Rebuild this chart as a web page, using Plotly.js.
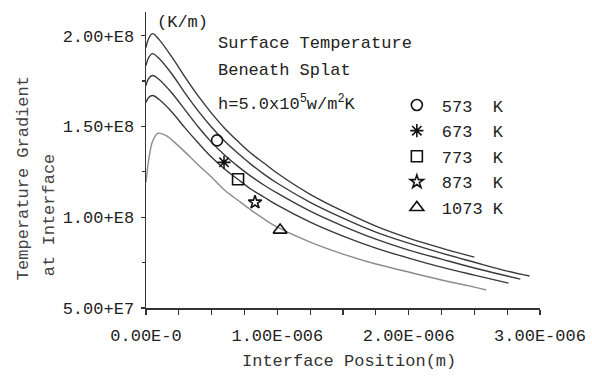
<!DOCTYPE html>
<html>
<head>
<meta charset="utf-8">
<script src="https://cdn.plot.ly/plotly-3.0.1.min.js"></script>
<style>html,body{margin:0;padding:0;background:#fff;}</style>
</head>
<body>
<div id="chart" style="width:592px;height:378px;"></div>
<script>
// Interface position (m) and temperature gradient (K/m)
var x573  = [0, 0.02e-6, 0.05e-6, 0.1e-6, 0.2e-6, 0.3e-6, 0.4e-6, 0.5e-6, 0.6e-6, 0.7e-6, 0.8e-6, 0.9e-6, 1.0e-6, 1.25e-6, 1.5e-6, 1.75e-6, 2.0e-6, 2.25e-6, 2.5e-6];
var y573  = [1.934e8, 1.984e8, 2.011e8, 1.978e8, 1.879e8, 1.769e8, 1.665e8, 1.572e8, 1.489e8, 1.418e8, 1.352e8, 1.297e8, 1.242e8, 1.126e8, 1.033e8, 0.951e8, 0.885e8, 0.830e8, 0.780e8];

var x673  = [0, 0.02e-6, 0.05e-6, 0.1e-6, 0.2e-6, 0.3e-6, 0.4e-6, 0.5e-6, 0.6e-6, 0.7e-6, 0.8e-6, 0.9e-6, 1.0e-6, 1.25e-6, 1.5e-6, 1.75e-6, 2.0e-6, 2.25e-6, 2.5e-6, 2.75e-6, 2.92e-6];
var y673  = [1.835e8, 1.879e8, 1.901e8, 1.874e8, 1.786e8, 1.681e8, 1.583e8, 1.495e8, 1.418e8, 1.352e8, 1.291e8, 1.236e8, 1.187e8, 1.082e8, 0.995e8, 0.918e8, 0.857e8, 0.802e8, 0.752e8, 0.703e8, 0.676e8];

var x773  = [0, 0.02e-6, 0.05e-6, 0.1e-6, 0.2e-6, 0.3e-6, 0.4e-6, 0.5e-6, 0.6e-6, 0.7e-6, 0.8e-6, 0.9e-6, 1.0e-6, 1.25e-6, 1.5e-6, 1.75e-6, 2.0e-6, 2.25e-6, 2.5e-6, 2.75e-6, 2.85e-6];
var y773  = [1.725e8, 1.764e8, 1.780e8, 1.758e8, 1.681e8, 1.588e8, 1.495e8, 1.412e8, 1.341e8, 1.280e8, 1.225e8, 1.176e8, 1.132e8, 1.033e8, 0.951e8, 0.879e8, 0.819e8, 0.769e8, 0.720e8, 0.676e8, 0.659e8];

var x873  = [0, 0.02e-6, 0.05e-6, 0.1e-6, 0.2e-6, 0.3e-6, 0.4e-6, 0.5e-6, 0.6e-6, 0.7e-6, 0.8e-6, 0.9e-6, 1.0e-6, 1.25e-6, 1.5e-6, 1.75e-6, 2.0e-6, 2.25e-6, 2.5e-6, 2.76e-6];
var y873  = [1.632e8, 1.659e8, 1.670e8, 1.648e8, 1.577e8, 1.489e8, 1.407e8, 1.330e8, 1.264e8, 1.209e8, 1.154e8, 1.110e8, 1.066e8, 0.973e8, 0.896e8, 0.830e8, 0.775e8, 0.725e8, 0.681e8, 0.637e8];

var x1073 = [0, 0.02e-6, 0.05e-6, 0.09e-6, 0.15e-6, 0.2e-6, 0.3e-6, 0.4e-6, 0.5e-6, 0.6e-6, 0.7e-6, 0.8e-6, 0.9e-6, 1.0e-6, 1.25e-6, 1.5e-6, 1.75e-6, 2.0e-6, 2.25e-6, 2.5e-6, 2.59e-6];
var y1073 = [1.192e8, 1.313e8, 1.418e8, 1.462e8, 1.451e8, 1.423e8, 1.357e8, 1.286e8, 1.220e8, 1.148e8, 1.093e8, 1.039e8, 0.989e8, 0.945e8, 0.863e8, 0.797e8, 0.742e8, 0.698e8, 0.654e8, 0.615e8, 0.599e8];

// marker positions (labels of each curve)
var seriesNames  = ['573\u00a0\u00a0K', '673\u00a0\u00a0K', '773\u00a0\u00a0K', '873\u00a0\u00a0K', '1073\u00a0K'];
var markerX = [0.541e-6, 0.594e-6, 0.701e-6, 0.830e-6, 1.021e-6];
var markerY = [1.423e8, 1.302e8, 1.209e8, 1.082e8, 0.929e8];
var markerSymbols = ['circle-open', 'asterisk-open', 'square-open', 'star-open', 'triangle-up-open'];
var markerSizes = [11, 11, 11, 10, 12];

// axis ticks
var xTickVals = [0, 1e-6, 2e-6, 3e-6];
var xTickText = ['0.00E-0', '1.00E-006', '2.00E-006', '3.00E-006'];
var yTickVals = [5e7, 1e8, 1.5e8, 2e8];
var yTickText = ['5.00+E7', '1.00+E8', '1.50+E8', '2.00+E8'];

var FONT = 'Liberation Mono, Courier New, monospace';
var curveX = [x573, x673, x773, x873, x1073];
var curveY = [y573, y673, y773, y873, y1073];
var curveColors = ['#3a3a3a', '#3a3a3a', '#3a3a3a', '#3a3a3a', '#8c8c8c'];

var traces = [];
for (var i = 0; i < curveX.length; i++) {
  traces.push({
    x: curveX[i], y: curveY[i], type: 'scatter', mode: 'lines',
    line: {color: curveColors[i], width: 1.4, shape: 'spline', smoothing: 1},
    showlegend: false, hoverinfo: 'skip'
  });
}
for (var j = 0; j < markerX.length; j++) {
  traces.push({
    x: [markerX[j]], y: [markerY[j]], type: 'scatter', mode: 'markers',
    name: seriesNames[j], legendgroup: 'g' + j,
    marker: {symbol: markerSymbols[j], size: markerSizes[j], color: '#111', line: {color: '#111', width: 1.6}}
  });
}

var layout = {
  width: 592, height: 378,
  margin: {l: 146, r: 52, t: 12, b: 70},
  paper_bgcolor: '#fff', plot_bgcolor: '#fff',
  font: {family: FONT, size: 17, color: '#222'},
  showlegend: true,
  legend: {
    x: 0.624, y: 0.745, xanchor: 'left', yanchor: 'top',
    bgcolor: 'rgba(0,0,0,0)', borderwidth: 0, itemwidth: 40,
    traceorder: 'grouped', tracegroupgap: 0.5,
    font: {family: FONT, size: 17, color: '#222'}
  },
  xaxis: {
    range: [0, 3e-6], showgrid: false, zeroline: false,
    showline: true, linecolor: '#333', linewidth: 1.5,
    tickmode: 'array', tickvals: xTickVals, ticktext: xTickText,
    ticks: 'outside', ticklen: 5, tickwidth: 1.2, tickcolor: '#333',
    ticklabelstandoff: 6,
    minor: {tickmode: 'linear', tick0: 0, dtick: 0.25e-6, ticks: 'outside', ticklen: 5, tickwidth: 1.2, tickcolor: '#333'},
    tickfont: {family: FONT, size: 17, color: '#222'}
  },
  yaxis: {
    range: [5e7, 2.13e8], showgrid: false, zeroline: false,
    showline: true, linecolor: '#333', linewidth: 1.5,
    tickmode: 'array', tickvals: yTickVals, ticktext: yTickText,
    ticks: 'outside', ticklen: 4, tickwidth: 1.2, tickcolor: '#333',
    ticklabelstandoff: 3,
    minor: {tickmode: 'linear', tick0: 5e7, dtick: 2.5e7, ticks: 'outside', ticklen: 3, tickwidth: 1.2, tickcolor: '#333'},
    tickfont: {family: FONT, size: 17, color: '#222'}
  },
  annotations: [
    {xref: 'paper', yref: 'paper', x: 0.023, y: 0.966, xanchor: 'left', yanchor: 'middle', showarrow: false,
     text: '(K/m)', font: {family: FONT, size: 17, color: '#222'}},
    {xref: 'paper', yref: 'paper', x: 0.178, y: 0.895, xanchor: 'left', yanchor: 'middle', showarrow: false,
     text: 'Surface Temperature', font: {family: FONT, size: 17, color: '#222'}},
    {xref: 'paper', yref: 'paper', x: 0.178, y: 0.804, xanchor: 'left', yanchor: 'middle', showarrow: false,
     text: 'Beneath Splat', font: {family: FONT, size: 17, color: '#222'}},
    {xref: 'paper', yref: 'paper', x: 0.178, y: 0.693, xanchor: 'left', yanchor: 'middle', showarrow: false,
     text: 'h=5.0x10<sup>5</sup>w/m<sup>2</sup>K', font: {family: FONT, size: 17, color: '#222'}},
    {xref: 'paper', yref: 'paper', x: -0.312, y: 0.439, xanchor: 'center', yanchor: 'middle', showarrow: false,
     textangle: -90, text: 'Temperature Gradient', font: {family: FONT, size: 17, color: '#444'}},
    {xref: 'paper', yref: 'paper', x: -0.246, y: 0.314, xanchor: 'center', yanchor: 'middle', showarrow: false,
     textangle: -90, text: 'at Interface', font: {family: FONT, size: 17, color: '#444'}},
    {xref: 'paper', yref: 'paper', x: 0.515, y: -0.182, xanchor: 'center', yanchor: 'middle', showarrow: false,
     text: 'Interface Position(m)', font: {family: FONT, size: 17, color: '#333'}}
  ]
};

Plotly.newPlot('chart', traces, layout, {displayModeBar: false, staticPlot: true});
</script>
</body>
</html>
